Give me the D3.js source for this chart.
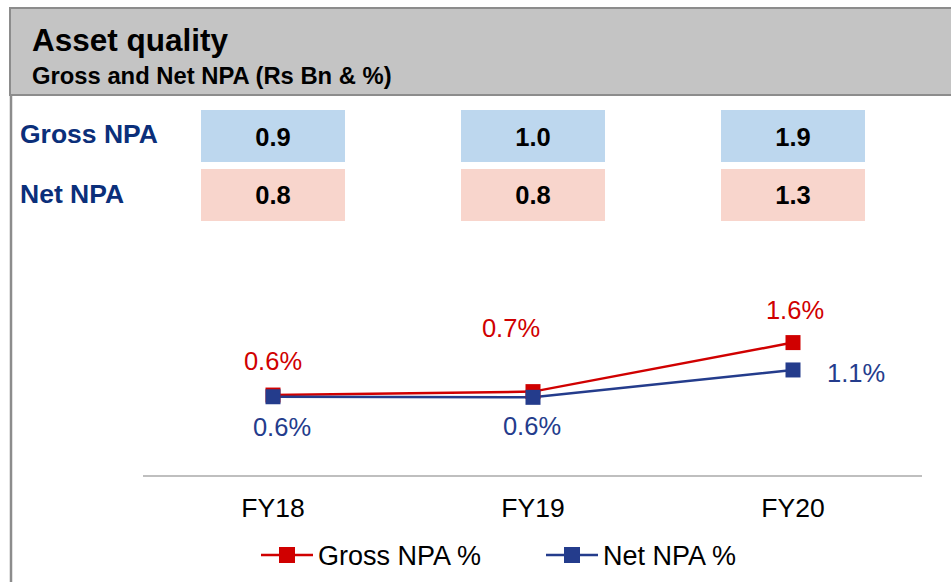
<!DOCTYPE html>
<html><head><meta charset="utf-8">
<script src="https://cdn.jsdelivr.net/npm/d3@7"></script>
<style>body{margin:0;background:#fff}svg{display:block}text{font-family:"Liberation Sans",Arial,sans-serif}</style>
</head><body>
<script>
const categories = ["FY18","FY19","FY20"];
const grossNpaBn = [0.9, 1.0, 1.9];
const netNpaBn = [0.8, 0.8, 1.3];
const grossNpaPct = [0.64, 0.70, 1.56];
const netNpaPct = [0.61, 0.60, 1.08];
const seriesNames = ["Gross NPA %","Net NPA %"];

const W = 951, H = 582;
const svg = d3.select("body").append("svg").attr("width", W).attr("height", H);

// header
svg.append("rect").attr("x", 10).attr("y", 8).attr("width", W).attr("height", 87)
  .attr("fill", "#c4c4c4").attr("stroke", "#8c8c8c").attr("stroke-width", 2);
svg.append("line").attr("x1", 11).attr("x2", 11).attr("y1", 95).attr("y2", H)
  .attr("stroke", "#8c8c8c").attr("stroke-width", 2.5);
svg.append("text").attr("x", 32).attr("y", 51).attr("font-size", 31.5).attr("font-weight", "bold")
  .attr("fill", "#000").text("Asset quality");
svg.append("text").attr("x", 32).attr("y", 84).attr("font-size", 23.8).attr("font-weight", "bold")
  .attr("fill", "#000").text("Gross and Net NPA (Rs Bn & %)");

// x scale
const x = d3.scalePoint().domain(categories).range([273, 793]);
const y = d3.scaleLinear().domain([-0.78, 3.0]).range([476, 260.5]);

// table rows
const rows = [
  {label: "Gross NPA", vals: grossNpaBn, fill: "#bdd7ee", y: 110, ly: 143, vy: 146},
  {label: "Net NPA", vals: netNpaBn, fill: "#f8d5cc", y: 169, ly: 203, vy: 204}
];
rows.forEach(r => {
  svg.append("text").attr("x", 20).attr("y", r.ly).attr("font-size", 26.5).attr("font-weight", "bold")
    .attr("fill", "#0b2f7a").text(r.label);
  categories.forEach((c, i) => {
    svg.append("rect").attr("x", x(c) - 72).attr("y", r.y).attr("width", 144).attr("height", 52).attr("fill", r.fill);
    svg.append("text").attr("x", x(c)).attr("y", r.vy).attr("text-anchor", "middle")
      .attr("font-size", 25.5).attr("font-weight", "bold").attr("fill", "#000").text(r.vals[i].toFixed(1));
  });
});

// axis line
svg.append("line").attr("x1", 143).attr("x2", 922).attr("y1", 476).attr("y2", 476)
  .attr("stroke", "#bfbfbf").attr("stroke-width", 2);
categories.forEach(c => {
  svg.append("text").attr("x", x(c)).attr("y", 517).attr("text-anchor", "middle")
    .attr("font-size", 26.5).attr("fill", "#000").text(c);
});

const series = [
  {vals: grossNpaPct, color: "#d00000", lab: [[0,-25,"middle"],[-22,-55,"middle"],[2,-24,"middle"]]},
  {vals: netNpaPct, color: "#243c8c", lab: [[9,39,"middle"],[-1,38,"middle"],[34,12,"start"]]}
];
const line = d3.line().x((d, i) => x(categories[i])).y(d => y(d));
series.forEach(s => {
  svg.append("path").attr("d", line(s.vals)).attr("fill", "none").attr("stroke", s.color).attr("stroke-width", 2.5);
});
series.forEach(s => {
  s.vals.forEach((v, i) => {
    svg.append("rect").attr("x", x(categories[i]) - 7.5).attr("y", y(v) - 7.5).attr("width", 15).attr("height", 15).attr("fill", s.color);
  });
});
series.forEach(s => {
  s.vals.forEach((v, i) => {
    const o = s.lab[i];
    svg.append("text").attr("x", x(categories[i]) + o[0]).attr("y", y(v) + o[1])
      .attr("text-anchor", o[2]).attr("font-size", 25.5).attr("fill", s.color).text(v.toFixed(1) + "%");
  });
});

// legend
const legX = [261, 546];
series.forEach((s, i) => {
  const g = svg.append("g");
  g.append("line").attr("x1", legX[i]).attr("x2", legX[i] + 52).attr("y1", 555).attr("y2", 555)
    .attr("stroke", s.color).attr("stroke-width", 2.5);
  g.append("rect").attr("x", legX[i] + 18).attr("y", 547).attr("width", 16).attr("height", 16).attr("fill", s.color);
  g.append("text").attr("x", legX[i] + 57).attr("y", 565).attr("font-size", 27).attr("fill", "#000").text(seriesNames[i]);
});
</script>
</body></html>
